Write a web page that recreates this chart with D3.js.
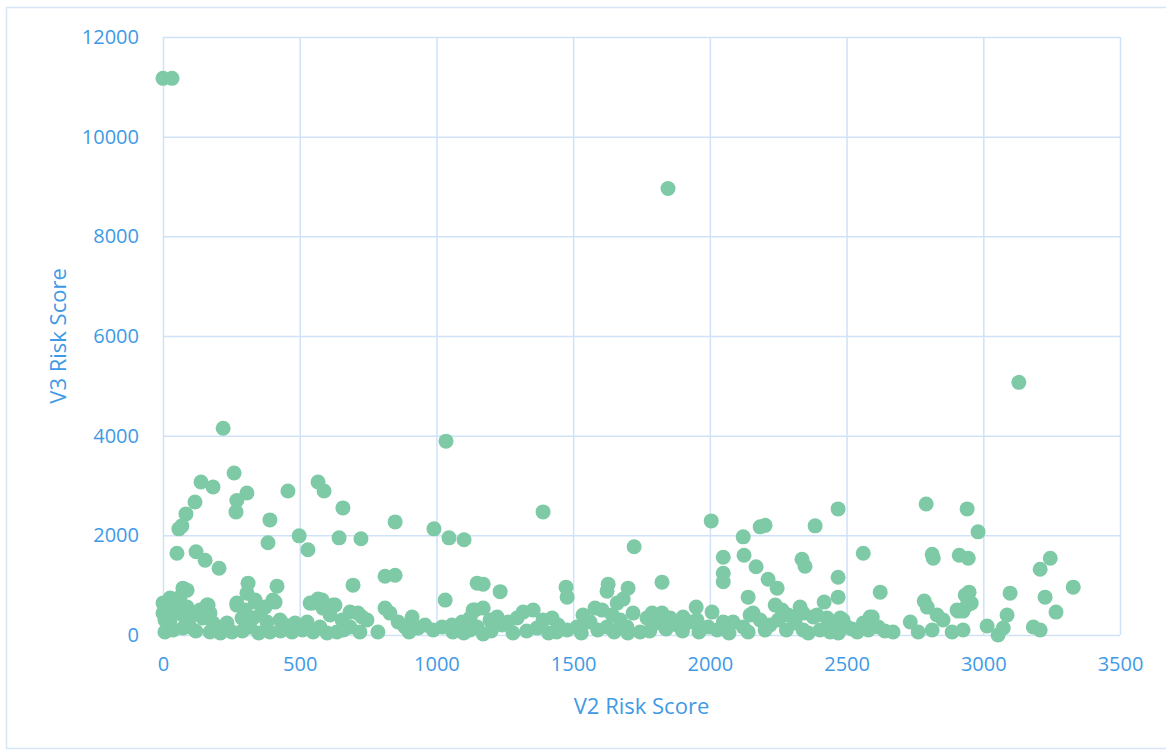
<!DOCTYPE html>
<html>
<head>
<meta charset="utf-8">
<script src="https://cdn.jsdelivr.net/npm/d3@7"></script>
<style>
  body { margin: 0; background: #fff; }
  text { font-family: "Open Sans", "Liberation Sans", sans-serif; }
</style>
</head>
<body>
<div id="chart"></div>
<script>
const svgWidth = 1166;
const svgHeight = 753;
const margin = { top: 37, right: 46, bottom: 118, left: 163 };

const xTicks = [0, 500, 1000, 1500, 2000, 2500, 3000, 3500];
const yTicks = [0, 2000, 4000, 6000, 8000, 10000, 12000];
const xLabel = "V2 Risk Score";
const yLabel = "V3 Risk Score";

// [V2 score, V3 score]
const highPoints = [
  [0, 11170], [33, 11170], [1847, 8960], [3130, 5070], [220, 4150], [1035, 3890],
  [260, 3250], [139, 3070], [183, 2970], [307, 2850], [270, 2700], [267, 2470],
  [117, 2670], [84, 2430], [69, 2190], [58, 2130], [457, 2890], [391, 2310],
  [384, 1850], [498, 1990], [530, 1710], [567, 3070], [589, 2890], [658, 2550],
  [644, 1950], [724, 1930], [849, 2270], [991, 2130], [1046, 1950], [1101, 1910],
  [51, 1640], [121, 1670], [154, 1500], [205, 1340], [1390, 2470], [1723, 1770],
  [2005, 2290], [2122, 1970], [2184, 2170], [2202, 2200], [2469, 2530], [2385, 2190],
  [2049, 1560], [2125, 1600], [2169, 1370], [2337, 1520], [2348, 1380], [2791, 2630],
  [2941, 2530], [2981, 2070], [2813, 1620], [2817, 1540], [2912, 1600], [2945, 1540],
  [2561, 1640], [2469, 1160], [3245, 1540], [3208, 1320], [2049, 1240], [2049, 1070],
  [2213, 1120], [1149, 1040], [1171, 1020], [812, 1180], [849, 1200], [311, 1040],
  [417, 980], [695, 1000], [1825, 1060], [1474, 960], [1628, 1020], [3329, 960]
];

const midPoints = [
  [73, 940], [88, 900], [33, 700], [7, 600], [161, 600], [1032, 700], [1233, 870],
  [1478, 760], [1624, 880], [1701, 940], [1683, 720], [1950, 560], [2008, 460],
  [2246, 940], [2140, 760], [2239, 600], [2264, 500], [2469, 760], [2418, 660],
  [2623, 860], [2784, 680], [2948, 860], [2934, 800], [2956, 640], [2908, 480],
  [2926, 480], [3226, 760], [3266, 460], [3098, 840], [3087, 400], [2795, 560],
  [2904, 500], [2941, 600], [2158, 440], [2330, 560]
];

const lowPoints = [
  [0, 640], [26, 740], [62, 760], [88, 560], [135, 500], [165, 600], [172, 440],
  [183, 240], [172, 60], [0, 440], [7, 300], [26, 300], [7, 60], [37, 100],
  [73, 140], [99, 160], [51, 500], [73, 400], [110, 400], [146, 340], [234, 240],
  [252, 60], [270, 640], [289, 340], [307, 840], [318, 160], [337, 660], [355, 400],
  [373, 560], [380, 260], [391, 60], [410, 660], [428, 300], [446, 200], [472, 60],
  [483, 240], [329, 340], [300, 500], [337, 700], [402, 700], [270, 600],
  [538, 640], [567, 720], [574, 160], [585, 540], [611, 400], [629, 600], [636, 60],
  [655, 300], [684, 460], [713, 440], [746, 300], [684, 160], [549, 60], [786, 60],
  [527, 260], [545, 640], [582, 700], [622, 600], [728, 360], [812, 540], [830, 440],
  [860, 260], [885, 160], [911, 360], [933, 140], [958, 200], [988, 100], [1021, 160],
  [1057, 200], [1094, 260], [1123, 340], [1134, 500], [1123, 100],
  [1141, 500], [1171, 540], [1149, 160], [1171, 20], [1196, 300], [1222, 360],
  [1240, 200], [1262, 260], [1295, 340], [1317, 460], [1354, 500], [1368, 140],
  [1390, 300], [1423, 340], [1445, 200], [1478, 100], [1514, 160], [1536, 400],
  [1562, 260], [1580, 540], [1606, 500], [1624, 160], [1643, 400], [1661, 640],
  [1672, 300], [1697, 160], [1719, 440], [1745, 60], [1770, 340], [1789, 440],
  [1807, 240], [1825, 440], [1855, 340], [1880, 200], [1902, 360], [1928, 260],
  [1953, 300], [1994, 160], [2027, 100], [2049, 260], [2085, 260], [2122, 160],
  [2147, 400], [2184, 300], [2202, 100], [2220, 200], [2250, 300], [2286, 400],
  [2312, 240],
  [2305, 360], [2341, 440], [2392, 400], [2429, 340], [2451, 160], [2477, 340],
  [2502, 160], [2539, 60], [2561, 240], [2594, 360], [2616, 160], [2670, 60],
  [2733, 260], [2762, 60], [2813, 100], [2831, 400], [2853, 300], [2886, 60],
  [2926, 100], [3014, 180], [3054, 0], [3073, 140], [3183, 160], [3208, 100],
  [2341, 100], [2403, 100], [2378, 360], [2487, 300], [2586, 360]
];

const floorPoints = [
  [120, 80], [210, 40], [290, 80], [350, 40], [430, 80], [510, 100], [600, 40],
  [660, 100], [720, 60], [900, 60], [1060, 60], [1100, 40], [1200, 80], [1280, 40],
  [1330, 80], [1410, 40], [1440, 60], [1530, 40], [1590, 100], [1650, 60], [1700, 40],
  [1780, 80], [1840, 120], [1900, 80], [1960, 60], [2070, 40], [2140, 60], [2280, 100],
  [2360, 40], [2440, 60], [2470, 40], [2520, 120], [2580, 100], [2640, 80]
];

const width = svgWidth - margin.left - margin.right;
const height = svgHeight - margin.top - margin.bottom;

const gridColor = "#cfe2f8";
const textColor = "#3f9ae6";
const dotColor = "#7ecaa6";

const svg = d3.select("#chart")
  .append("svg")
  .attr("width", svgWidth)
  .attr("height", svgHeight);

// outer chart frame
svg.append("rect")
  .attr("x", 6.5)
  .attr("y", 7.5)
  .attr("width", svgWidth)
  .attr("height", 741)
  .attr("fill", "none")
  .attr("stroke", "#d6e6f7")
  .attr("stroke-width", 1.5);

const g = svg.append("g")
  .attr("transform", `translate(${margin.left},${margin.top})`);

const x = d3.scaleLinear().domain([0, 3500]).range([0, width]);
const y = d3.scaleLinear().domain([0, 12000]).range([height, 0]);

const xAxis = g.append("g")
  .attr("transform", `translate(0,${height})`)
  .call(d3.axisBottom(x).tickValues(xTicks).tickSize(-height).tickPadding(22).tickFormat(d3.format("d")));

const yAxis = g.append("g")
  .call(d3.axisLeft(y).tickValues(yTicks).tickSize(-width).tickPadding(24).tickFormat(d3.format("d")));

[xAxis, yAxis].forEach(ax => {
  ax.select(".domain").remove();
  ax.selectAll(".tick line").attr("stroke", gridColor).attr("stroke-width", 1.5);
  ax.selectAll(".tick text")
    .attr("fill", textColor)
    .attr("font-size", 20);
});

const allPoints = lowPoints.concat(floorPoints, midPoints, highPoints);

g.append("g")
  .selectAll("circle")
  .data(allPoints)
  .enter().append("circle")
  .attr("cx", d => x(d[0]))
  .attr("cy", d => y(d[1]))
  .attr("r", 7.5)
  .attr("fill", dotColor);

svg.append("text")
  .attr("x", margin.left + width / 2)
  .attr("y", 714)
  .attr("text-anchor", "middle")
  .attr("fill", textColor)
  .attr("font-size", 22)
  .text(xLabel);

svg.append("text")
  .attr("transform", `translate(66,${margin.top + height / 2}) rotate(-90)`)
  .attr("text-anchor", "middle")
  .attr("fill", textColor)
  .attr("font-size", 22)
  .text(yLabel);
</script>
</body>
</html>
